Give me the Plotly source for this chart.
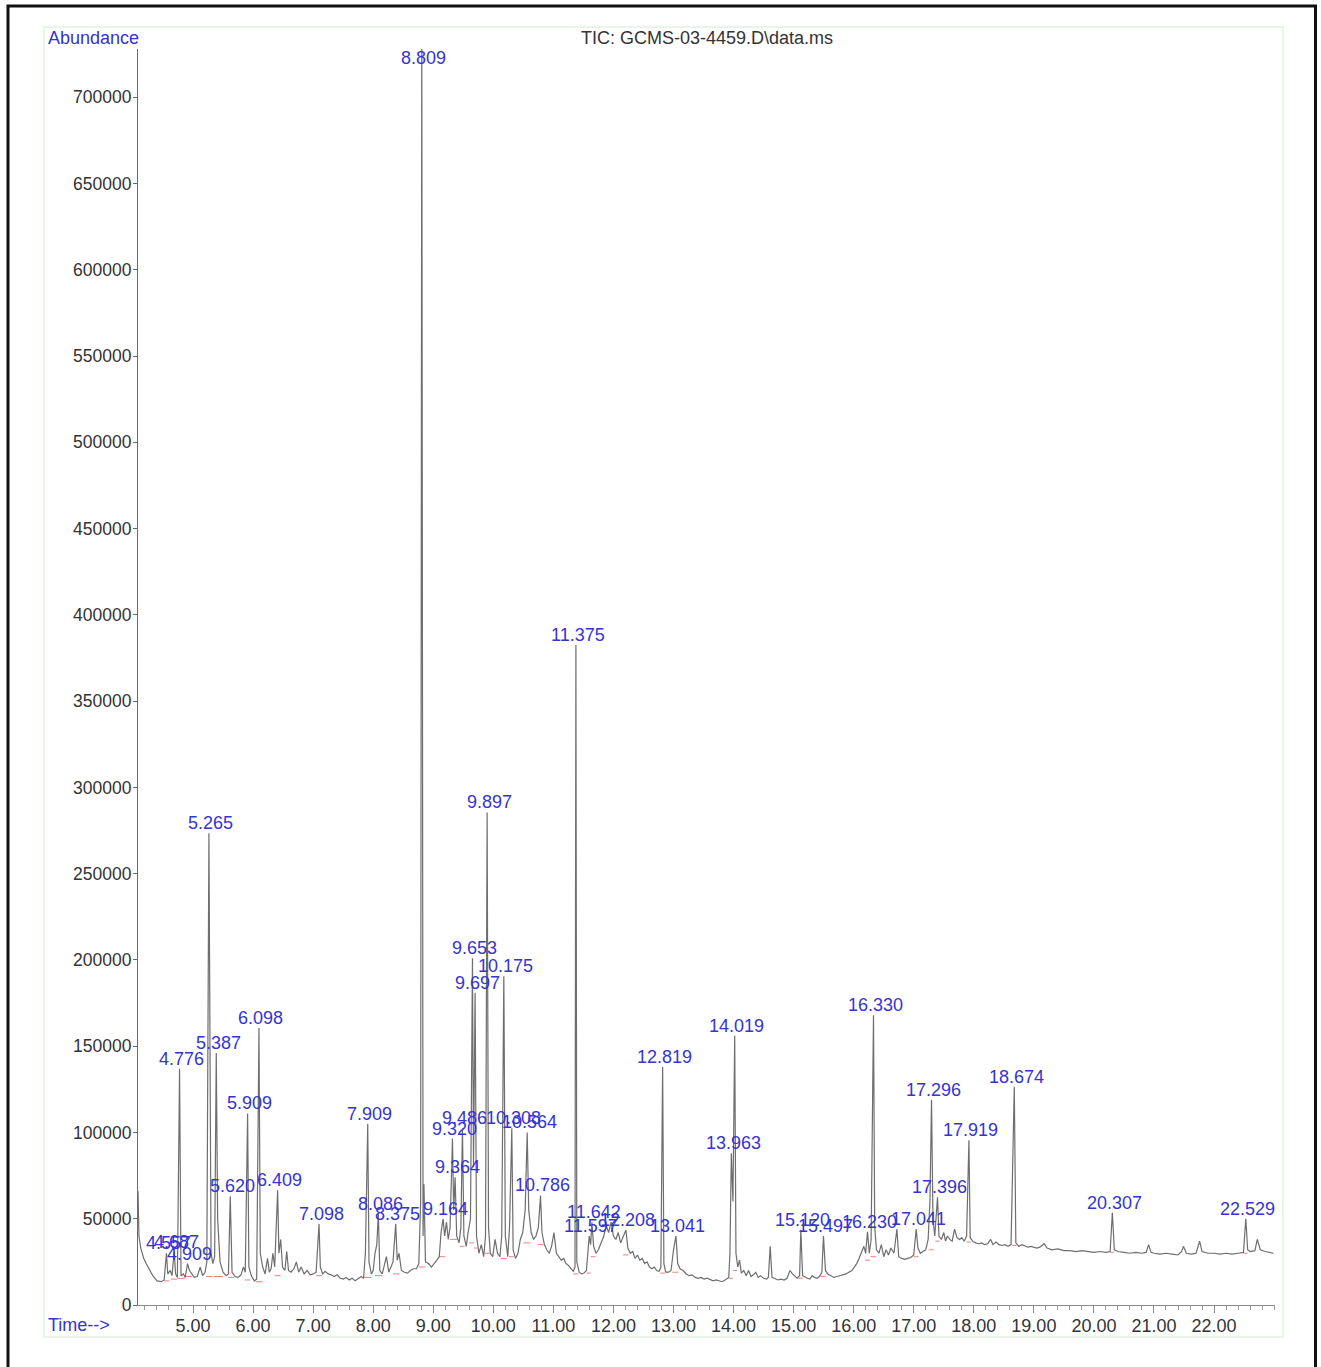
import plotly.graph_objects as go

# ---- Total ion chromatogram: labelled peaks (retention time, apex abundance) ----
peak_rt = [4.557, 4.687, 4.776, 4.909, 5.265, 5.387, 5.620, 5.909, 6.098, 6.409,
           7.098, 7.909, 8.086, 8.375, 8.809, 9.164, 9.320, 9.364, 9.486, 9.653,
           9.697, 9.897, 10.175, 10.308, 10.564, 10.786, 11.375, 11.597, 11.642,
           12.208, 12.819, 13.041, 13.963, 14.019, 15.120, 15.497, 16.230, 16.330,
           17.041, 17.296, 17.396, 17.919, 18.674, 20.307, 22.529]
peak_height = [30000, 31000, 137000, 24000, 273500, 146000, 63000, 111000, 160500, 66500,
               47000, 105000, 53000, 47000, 745000, 50000, 96500, 74000, 102500, 201000,
               181000, 285500, 190500, 102500, 100000, 63500, 382500, 40000, 48000,
               43500, 138000, 40000, 88000, 156000, 43500, 40000, 42500, 168000,
               44000, 119000, 62500, 95500, 126500, 53500, 50000]

# ---- Signal between the labelled apexes (baseline, noise, unlabelled peaks) ----
signal_points = [
    (4.084, 66000), (4.10, 40000), (4.13, 33000), (4.18, 27000), (4.22, 24000),
    (4.28, 20000), (4.33, 17000), (4.40, 14000), (4.47, 13500), (4.52, 14500),
    (4.58, 18000), (4.62, 20000), (4.65, 17000), (4.71, 18000), (4.74, 16000),
    (4.80, 17000), (4.84, 18000), (4.87, 16000), (4.94, 20000), (4.98, 18000),
    (5.02, 16000), (5.07, 16500), (5.12, 22000), (5.16, 17000), (5.20, 19000),
    (5.23, 25000), (5.30, 30000), (5.33, 24000), (5.36, 28000), (5.41, 50000),
    (5.45, 25000), (5.50, 19000), (5.55, 17000), (5.59, 18000), (5.65, 19000),
    (5.70, 16500), (5.75, 16000), (5.80, 17500), (5.84, 22000), (5.87, 19000),
    (5.93, 22000), (5.97, 17000), (6.02, 14000), (6.06, 15000), (6.12, 30000),
    (6.16, 22000), (6.20, 18000), (6.24, 27000), (6.27, 19000), (6.30, 21000),
    (6.33, 30000), (6.36, 22000), (6.43, 30000), (6.46, 38000), (6.49, 22000),
    (6.53, 20000), (6.56, 31000), (6.59, 20000), (6.63, 19000), (6.68, 21000),
    (6.72, 25000), (6.76, 19000), (6.80, 22000), (6.85, 18000), (6.90, 20000),
    (6.95, 17500), (7.00, 18000), (7.05, 19000), (7.12, 22000), (7.16, 18000),
    (7.20, 19500), (7.25, 18000), (7.30, 17500), (7.35, 16500), (7.40, 17500),
    (7.45, 15500), (7.50, 15000), (7.55, 16000), (7.60, 14500), (7.65, 15500),
    (7.70, 14000), (7.75, 15000), (7.80, 16500), (7.84, 15500), (7.87, 30000),
    (7.93, 25000), (7.97, 18000), (8.00, 20000), (8.03, 30000), (8.06, 35000),
    (8.11, 20000), (8.15, 18000), (8.22, 28000), (8.26, 19000), (8.30, 22000),
    (8.33, 25000), (8.40, 26000), (8.43, 30000), (8.47, 20000), (8.52, 19000),
    (8.57, 18500), (8.62, 20000), (8.67, 21000), (8.72, 21000), (8.76, 24000),
    (8.79, 60000), (8.83, 40000), (8.845, 70000), (8.87, 25000), (8.92, 24000),
    (8.97, 22000), (9.02, 24000), (9.06, 26000), (9.10, 28000), (9.13, 42000),
    (9.19, 40000), (9.22, 48000), (9.25, 38000), (9.28, 45000), (9.34, 55000),
    (9.39, 40000), (9.43, 36000), (9.46, 45000), (9.51, 40000), (9.55, 34000),
    (9.58, 42000), (9.62, 50000), (9.67, 80000), (9.72, 40000), (9.76, 30000),
    (9.80, 35000), (9.84, 28000), (9.87, 40000), (9.92, 45000), (9.95, 30000),
    (9.99, 28000), (10.03, 38000), (10.07, 30000), (10.11, 28000), (10.14, 40000),
    (10.20, 40000), (10.24, 28000), (10.27, 45000), (10.33, 32000), (10.37, 27000),
    (10.41, 30000), (10.45, 38000), (10.49, 42000), (10.53, 55000), (10.59, 55000),
    (10.63, 42000), (10.67, 38000), (10.71, 40000), (10.75, 45000), (10.81, 42000),
    (10.85, 35000), (10.89, 32000), (10.93, 30000), (10.97, 34000), (11.01, 42000),
    (11.05, 30000), (11.09, 28000), (11.13, 26000), (11.17, 27000), (11.21, 24000),
    (11.25, 23000), (11.29, 21000), (11.33, 19500), (11.36, 22000), (11.39, 25000),
    (11.43, 19000), (11.47, 18000), (11.51, 18500), (11.55, 20000), (11.62, 35000),
    (11.67, 34000), (11.71, 30000), (11.75, 32000), (11.80, 36000), (11.84, 40000),
    (11.88, 46000), (11.92, 42000), (11.96, 48000), (12.00, 40000), (12.04, 38000),
    (12.08, 42000), (12.12, 36000), (12.16, 40000), (12.24, 33000), (12.28, 30000),
    (12.32, 31000), (12.36, 27000), (12.40, 29000), (12.44, 26000), (12.48, 27000),
    (12.52, 24000), (12.56, 25000), (12.60, 22000), (12.64, 21000), (12.68, 22000),
    (12.72, 20000), (12.76, 19500), (12.79, 22000), (12.84, 24000), (12.87, 19000),
    (12.92, 19000), (12.96, 20000), (13.00, 32000), (13.02, 36000), (13.07, 24000),
    (13.11, 21000), (13.16, 20000), (13.21, 18000), (13.26, 17000), (13.31, 17500),
    (13.36, 16000), (13.41, 15500), (13.46, 16000), (13.51, 15000), (13.56, 15500),
    (13.61, 14500), (13.66, 14000), (13.71, 14500), (13.76, 14000), (13.81, 13500),
    (13.86, 14500), (13.92, 16000), (13.94, 30000), (13.99, 60000), (14.04, 30000),
    (14.07, 22000), (14.10, 26000), (14.13, 18500), (14.17, 20000), (14.21, 17000),
    (14.25, 20000), (14.29, 16500), (14.33, 17500), (14.37, 19000), (14.41, 16000),
    (14.45, 17000), (14.50, 15500), (14.55, 15000), (14.58, 16000), (14.61, 34000),
    (14.64, 16000), (14.69, 15000), (14.74, 14500), (14.79, 15000), (14.84, 14500),
    (14.89, 15500), (14.94, 20000), (14.98, 18000), (15.02, 16500), (15.06, 15500),
    (15.10, 17000), (15.15, 17000), (15.19, 16000), (15.23, 15500), (15.27, 15000),
    (15.31, 17000), (15.35, 16000), (15.39, 15500), (15.43, 16500), (15.47, 19000),
    (15.53, 20000), (15.57, 18000), (15.62, 17000), (15.67, 16000), (15.72, 16500),
    (15.77, 17000), (15.82, 17500), (15.87, 18000), (15.92, 19000), (15.97, 20000),
    (16.01, 22000), (16.05, 24000), (16.09, 27000), (16.13, 30000), (16.17, 34000),
    (16.20, 30000), (16.26, 30000), (16.29, 38000), (16.35, 45000), (16.38, 32000),
    (16.42, 30000), (16.46, 35000), (16.50, 28000), (16.54, 32000), (16.58, 29000),
    (16.62, 33000), (16.67, 30000), (16.72, 44000), (16.75, 28000), (16.80, 27000),
    (16.85, 26500), (16.90, 27000), (16.95, 27500), (17.00, 29000), (17.07, 33000),
    (17.11, 30000), (17.15, 31000), (17.20, 32000), (17.24, 38000), (17.27, 60000),
    (17.32, 50000), (17.35, 40000), (17.37, 48000), (17.42, 40000), (17.46, 38000),
    (17.50, 42000), (17.53, 37000), (17.56, 40000), (17.60, 38000), (17.64, 37000),
    (17.68, 44000), (17.72, 39000), (17.76, 38000), (17.80, 39000), (17.84, 37000),
    (17.88, 40000), (17.94, 39000), (17.98, 37000), (18.03, 36000), (18.08, 35500),
    (18.13, 36000), (18.18, 35000), (18.23, 35500), (18.28, 38000), (18.32, 35000),
    (18.37, 36500), (18.42, 35000), (18.47, 34500), (18.52, 35000), (18.57, 34000),
    (18.62, 35000), (18.70, 36000), (18.75, 34000), (18.80, 35000), (18.85, 34000),
    (18.90, 33500), (18.95, 34000), (19.00, 33500), (19.05, 33000), (19.10, 33500),
    (19.17, 35500), (19.22, 33000), (19.30, 32000), (19.40, 32500), (19.50, 31500),
    (19.60, 31500), (19.70, 31000), (19.80, 31500), (19.90, 31000), (20.00, 30500),
    (20.10, 31000), (20.20, 30500), (20.27, 31000), (20.34, 32000), (20.40, 31000),
    (20.50, 30500), (20.60, 30000), (20.70, 30500), (20.80, 30000), (20.87, 30500),
    (20.91, 35000), (20.95, 30500), (21.00, 30000), (21.10, 29500), (21.20, 30000),
    (21.30, 29500), (21.40, 29000), (21.46, 31000), (21.49, 34000), (21.54, 30000),
    (21.62, 29500), (21.70, 30000), (21.76, 37000), (21.80, 31000), (21.90, 30000),
    (22.00, 30000), (22.10, 29500), (22.20, 30000), (22.30, 29500), (22.40, 30000),
    (22.49, 30500), (22.56, 32000), (22.60, 31000), (22.68, 31500), (22.72, 38000),
    (22.77, 32000), (22.85, 31000), (22.95, 30500), (22.99, 30000),
]

# ---- Integration baselines (start time, end time, abundance level) ----
integration_start = [4.52, 4.63, 4.74, 4.87, 5.22, 5.34, 5.58, 5.86, 6.04, 6.36,
                     7.05, 7.85, 8.03, 8.33, 8.76, 9.10, 9.28, 9.34, 9.44, 9.60,
                     9.68, 9.86, 10.12, 10.26, 10.50, 10.74, 11.33, 11.55, 11.62,
                     12.16, 12.78, 12.98, 13.92, 13.99, 15.08, 15.45, 16.19, 16.28,
                     17.00, 17.25, 17.36, 17.88, 18.64, 20.27, 22.49]
integration_end = [4.60, 4.73, 4.86, 4.98, 5.32, 5.50, 5.68, 5.95, 6.16, 6.46,
                   7.15, 7.97, 8.15, 8.44, 8.87, 9.20, 9.34, 9.40, 9.52, 9.68,
                   9.74, 9.94, 10.22, 10.34, 10.62, 10.83, 11.42, 11.62, 11.70,
                   12.25, 12.86, 13.08, 13.99, 14.06, 15.16, 15.53, 16.27, 16.37,
                   17.08, 17.33, 17.43, 17.95, 18.71, 20.34, 22.56]
integration_level = [14000, 15000, 15500, 16500, 16500, 16500, 16000, 14500, 13500, 17000,
                     17000, 16000, 17000, 18000, 22000, 28000, 38000, 38000, 34000, 36000,
                     33000, 30000, 27000, 28000, 36000, 35000, 18000, 18500, 28000,
                     29000, 18500, 19000, 15500, 20000, 15500, 16500, 26000, 28000,
                     28000, 32000, 37000, 36500, 34500, 30500, 30000]

x_ticks = [5, 6, 7, 8, 9, 10, 11, 12, 13, 14, 15, 16, 17, 18, 19, 20, 21, 22]
X_RANGE = [4.084, 23.015]
Y_MAX = 728000

# merge the labelled apexes into the signal, ordered by time
points = sorted(signal_points + list(zip(peak_rt, peak_height)))
sig_t = [p[0] for p in points]
sig_a = [p[1] for p in points]

# integration segments as one broken line
seg_t, seg_a = [], []
for s, e, lv in zip(integration_start, integration_end, integration_level):
    seg_t += [s, e, None]
    seg_a += [lv, lv, None]

FONT = "Liberation Sans, Arial, Helvetica, sans-serif"
BLUE = "#3434d2"
GREY_TEXT = "#333333"

fig = go.Figure()
fig.add_trace(go.Scatter(x=seg_t, y=seg_a, mode="lines",
                         line=dict(color="#f08080", width=1), hoverinfo="skip"))
fig.add_trace(go.Scatter(x=sig_t, y=sig_a, mode="lines",
                         line=dict(color="#6e6e6e", width=1.2)))

annotations = []
for rt, h in zip(peak_rt, peak_height):
    if h > Y_MAX:
        annotations.append(dict(x=rt, y=Y_MAX, xref="x", yref="y", text=f"{rt:.3f}",
                                showarrow=False, yanchor="top", yshift=3, xshift=2,
                                font=dict(family=FONT, size=18, color=BLUE)))
    else:
        annotations.append(dict(x=rt, y=h, xref="x", yref="y", text=f"{rt:.3f}",
                                showarrow=False, yanchor="bottom", yshift=-2, xshift=2,
                                font=dict(family=FONT, size=18, color=BLUE)))

# plot area in pixels: x 138..1275, y 49..1305
PL, PR, PT, PB = 138, 1275, 49, 1305
def px(xp):
    return (xp - PL) / (PR - PL)
def py(yp):
    return (PB - yp) / (PB - PT)

annotations += [
    dict(x=px(46), y=py(38), xref="paper", yref="paper", text="Abundance",
         showarrow=False, xanchor="left", yanchor="middle",
         font=dict(family=FONT, size=18, color=BLUE)),
    dict(x=px(46), y=py(1325), xref="paper", yref="paper", text="Time-->",
         showarrow=False, xanchor="left", yanchor="middle",
         font=dict(family=FONT, size=18, color=BLUE)),
    dict(x=0.5, y=py(38), xref="paper", yref="paper", text="TIC: GCMS-03-4459.D\\data.ms",
         showarrow=False, xanchor="center", yanchor="middle",
         font=dict(family=FONT, size=18, color=GREY_TEXT)),
]

shapes = [
    # faint green frame round the chart
    dict(type="rect", xref="paper", yref="paper", x0=px(44), x1=px(1283),
         y0=py(1337), y1=py(27), line=dict(color="#e3f2e3", width=1.5), layer="below"),
    # heavy black outer frame
    dict(type="rect", xref="paper", yref="paper", x0=px(8), x1=px(1315.5),
         y0=py(1400), y1=py(6), line=dict(color="#111111", width=3)),
]

fig.update_layout(
    width=1321, height=1367,
    margin=dict(l=PL, r=1321 - PR, t=PT, b=1367 - PB),
    paper_bgcolor="white", plot_bgcolor="white",
    showlegend=False,
    annotations=annotations,
    shapes=shapes,
    font=dict(family=FONT, size=18, color=GREY_TEXT),
)
fig.update_xaxes(
    range=X_RANGE, tickvals=x_ticks, tickformat=".2f",
    showgrid=False, zeroline=False,
    showline=True, linecolor="#8a8a8a", linewidth=1,
    ticks="outside", ticklen=7, tickcolor="#8a8a8a",
    ticklabelstandoff=-3,
    tickfont=dict(family=FONT, size=18, color=GREY_TEXT),
    minor=dict(dtick=0.2, tick0=0, ticks="outside", ticklen=4, tickcolor="#9a9a9a"),
)
fig.update_yaxes(
    range=[0, Y_MAX], dtick=50000, tickformat="d",
    showgrid=False, zeroline=False,
    showline=True, linecolor="#6a6a6a", linewidth=1,
    ticks="outside", ticklen=4, tickcolor="#6a6a6a",
    ticklabelstandoff=-2,
    tickfont=dict(family=FONT, size=17.5, color=GREY_TEXT),
)

fig.write_html("out.html")
